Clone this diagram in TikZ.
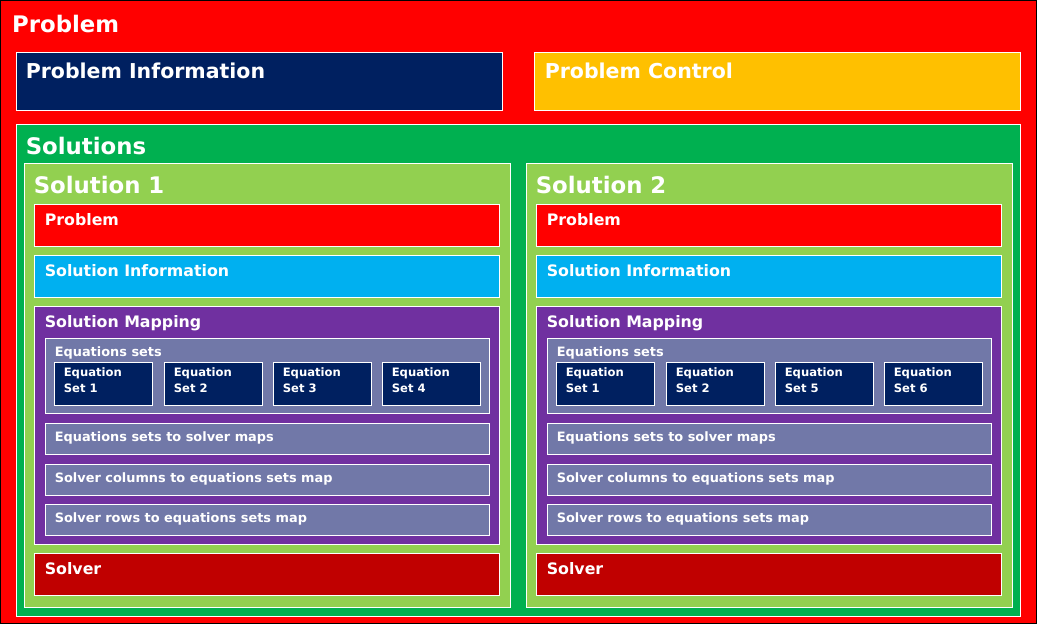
\documentclass[tikz,border=0pt]{standalone}
\usepackage{fontspec}
\setmainfont{DejaVu Sans}
\usetikzlibrary{fit,calc}
\definecolor{cRed}{HTML}{FF0000}
\definecolor{cNavy}{HTML}{002060}
\definecolor{cGold}{HTML}{FFC000}
\definecolor{cGreen}{HTML}{00B050}
\definecolor{cLime}{HTML}{92D050}
\definecolor{cSky}{HTML}{00B0F0}
\definecolor{cPurple}{HTML}{7030A0}
\definecolor{cSlate}{HTML}{7178A8}
\definecolor{cDark}{HTML}{C00000}
\tikzset{
  bx/.style={draw=white, line width=0.8pt, inner sep=0pt},
  lbl/.style={anchor=base west, inner sep=0pt, text=white},
  fA/.style={font=\fontsize{22.8}{26}\selectfont\bfseries},
  fB/.style={font=\fontsize{20.5}{24}\selectfont\bfseries},
  fC/.style={font=\fontsize{15.8}{18}\selectfont\bfseries},
  fD/.style={font=\fontsize{12.9}{15}\selectfont\bfseries},
  fE/.style={font=\fontsize{11.6}{15.5}\selectfont\bfseries, align=left},
}
\begin{document}
\begin{tikzpicture}[x=1pt,y=-1pt]
\useasboundingbox (0,0) rectangle (1037,624);
\node[draw=black, line width=1pt, fill=cRed, inner sep=0pt, fit={(0.5,0.5)(1036.5,623.5)}] (root) {};
\node[lbl, fA] (root-t) at (12,32) {Problem};
\node[bx, fill=cNavy, fit={(16,52)(502,110)}] (pinfo) {};
\node[lbl,fB] (pinfo-t) at ($(pinfo.north west)+(10,27)$) {Problem Information};
\node[bx, fill=cGold, fit={(534,52)(1020,110)}] (pctl) {};
\node[lbl,fB] (pctl-t) at ($(pctl.north west)+(11,27)$) {Problem Control};
\node[bx, fill=cGreen, fit={(16,124)(1020,616)}] (sols) {};
\node[lbl,fA] (sols-t) at ($(sols.north west)+(10,31)$) {Solutions};
\foreach \o/\n/\a/\b in {0/1/3/4, 502/2/5/6}{
  \node[bx, fill=cLime, fit={(24+\o,163)(510+\o,607)}] (sol\n) {};
  \node[lbl,fA] (sol\n-t) at ($(sol\n.north west)+(10,31)$) {Solution \n};
  \node[bx, fill=cRed, fit={(34+\o,204)(499+\o,246)}] (prob\n) {};
  \node[lbl,fC] (prob\n-t) at ($(prob\n.north west)+(11,22)$) {Problem};
  \node[bx, fill=cSky, fit={(34+\o,255)(499+\o,297)}] (sinfo\n) {};
  \node[lbl,fC] (sinfo\n-t) at ($(sinfo\n.north west)+(11,22)$) {Solution Information};
  \node[bx, fill=cPurple, fit={(34+\o,306)(499+\o,544)}] (smap\n) {};
  \node[lbl,fC] (smap\n-t) at ($(smap\n.north west)+(11,22)$) {Solution Mapping};
  \node[bx, fill=cSlate, fit={(45+\o,338)(489+\o,413)}] (eqs\n) {};
  \node[lbl,fD] (eqs\n-t) at ($(eqs\n.north west)+(10,19)$) {Equations sets};
  \foreach \k/\xx/\lab in {1/54/1, 2/164/2, 3/273/\a, 4/382/\b}{
    \node[bx, fill=cNavy, fit={(\xx+\o,362)(\xx+98+\o,405)}] (es\n\k) {};
    \node[inner sep=0pt, text=white, anchor=north west, fE] (es\n\k-t) at ($(es\n\k.north west)+(10,6)$) {Equation\\Set \lab};
  }
  \node[bx, fill=cSlate, fit={(45+\o,423)(489+\o,454)}] (ma\n) {};
  \node[lbl,fD] (ma\n-t) at ($(ma\n.north west)+(10,19)$) {Equations sets to solver maps};
  \node[bx, fill=cSlate, fit={(45+\o,464)(489+\o,495)}] (mb\n) {};
  \node[lbl,fD] (mb\n-t) at ($(mb\n.north west)+(10,19)$) {Solver columns to equations sets map};
  \node[bx, fill=cSlate, fit={(45+\o,504)(489+\o,535)}] (mc\n) {};
  \node[lbl,fD] (mc\n-t) at ($(mc\n.north west)+(10,19)$) {Solver rows to equations sets map};
  \node[bx, fill=cDark, fit={(34+\o,553)(499+\o,595)}] (solv\n) {};
  \node[lbl,fC] (solv\n-t) at ($(solv\n.north west)+(11,22)$) {Solver};
}
\end{tikzpicture}
\end{document}
